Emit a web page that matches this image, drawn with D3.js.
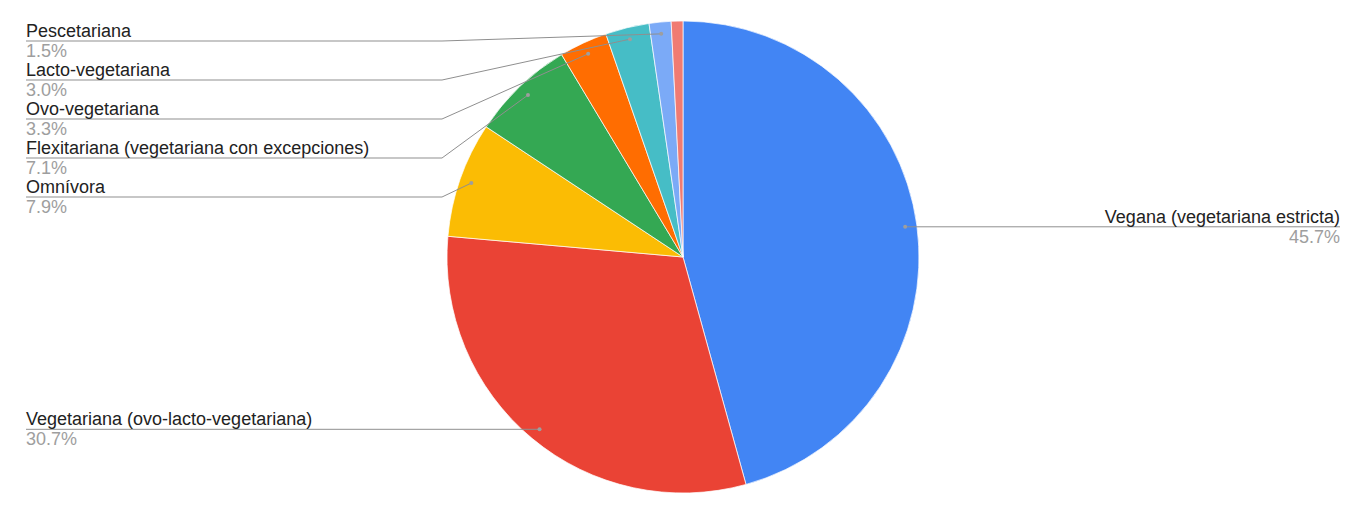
<!DOCTYPE html>
<html>
  <head>
    <meta charset="utf-8">
    <script src="https://d3js.org/d3.v7.min.js"></script>
    <style>
      body { margin: 0; background: #fff; }
      svg { display: block; font-family: "Liberation Sans", Arial, sans-serif; }
    </style>
  </head>
  <body>
    <div id="chart"></div>
    <script>
      // data
      var categories = ['Vegana (vegetariana estricta)', 'Vegetariana (ovo-lacto-vegetariana)', 'Omnívora',
        'Flexitariana (vegetariana con excepciones)', 'Ovo-vegetariana', 'Lacto-vegetariana', 'Pescetariana', 'Otra']
      var values = [45.7, 30.7, 7.9, 7.1, 3.3, 3.0, 1.5, 0.8]
      var showLabel = [true, true, true, true, true, true, true, false]
      var colors = ['#4285f4', '#ea4335', '#fbbc04', '#34a853', '#ff6d01', '#46bdc6', '#7baaf7', '#f07b72']

      var width = 1365, height = 515
      var cx = 683, cy = 257, r = 236
      var dotR = r * 0.95
      var leftX = 26, rightX = 1340, elbowL = 442, elbowR = 923
      var rowGap = 39, topLine = 41

      var svg = d3.select('#chart').append('svg')
        .attr('width', width)
        .attr('height', height)

      var rows = categories.map(function(c, i) {
        return { name: c, value: values[i], color: colors[i], show: showLabel[i] }
      })

      var pie = d3.pie().sort(null).value(function(d) { return d.value })
      var arcs = pie(rows)
      var arc = d3.arc().innerRadius(0).outerRadius(r)

      var g = svg.append('g').attr('transform', 'translate(' + cx + ',' + cy + ')')
      g.selectAll('path')
        .data(arcs)
        .enter().append('path')
          .attr('d', arc)
          .attr('fill', function(d) { return d.data.color })
          .attr('stroke', '#fff')
          .attr('stroke-width', 0.7)

      // label anchor points
      var labels = arcs.filter(function(d) { return d.data.show }).map(function(d) {
        var a = (d.startAngle + d.endAngle) / 2
        return {
          d: d,
          px: cx + dotR * Math.sin(a),
          py: cy - dotR * Math.cos(a),
          side: Math.sin(a) >= 0 ? 'right' : 'left'
        }
      })

      // stack labels on each side so they don't collide
      ;['left', 'right'].forEach(function(side) {
        var list = labels.filter(function(l) { return l.side == side })
          .sort(function(a, b) { return a.py - b.py })
        var prev = topLine - rowGap
        list.forEach(function(l) {
          l.ly = Math.max(l.py, prev + rowGap)
          prev = l.ly
        })
      })

      var lab = svg.append('g')
      labels.forEach(function(l) {
        var tx = l.side == 'left' ? leftX : rightX
        var ex = l.side == 'left' ? elbowL : elbowR
        var anchor = l.side == 'left' ? 'start' : 'end'
        var pts = Math.abs(l.ly - l.py) < 0.5
          ? [[l.px, l.py], [tx, l.ly]]
          : [[l.px, l.py], [ex, l.ly], [tx, l.ly]]
        lab.append('path')
          .attr('d', d3.line()(pts))
          .attr('fill', 'none')
          .attr('stroke', '#8f8f8f')
          .attr('stroke-width', 1)
        lab.append('circle')
          .attr('cx', l.px)
          .attr('cy', l.py)
          .attr('r', 2)
          .attr('fill', '#9e9e9e')
        lab.append('text')
          .attr('x', tx)
          .attr('y', l.ly - 4)
          .attr('text-anchor', anchor)
          .style('font-size', '18px')
          .style('fill', '#222')
          .text(l.d.data.name)
        lab.append('text')
          .attr('x', tx)
          .attr('y', l.ly + 16)
          .attr('text-anchor', anchor)
          .style('font-size', '18px')
          .style('fill', '#9e9e9e')
          .text(l.d.data.value.toFixed(1) + '%')
      })
    </script>
  </body>
</html>
